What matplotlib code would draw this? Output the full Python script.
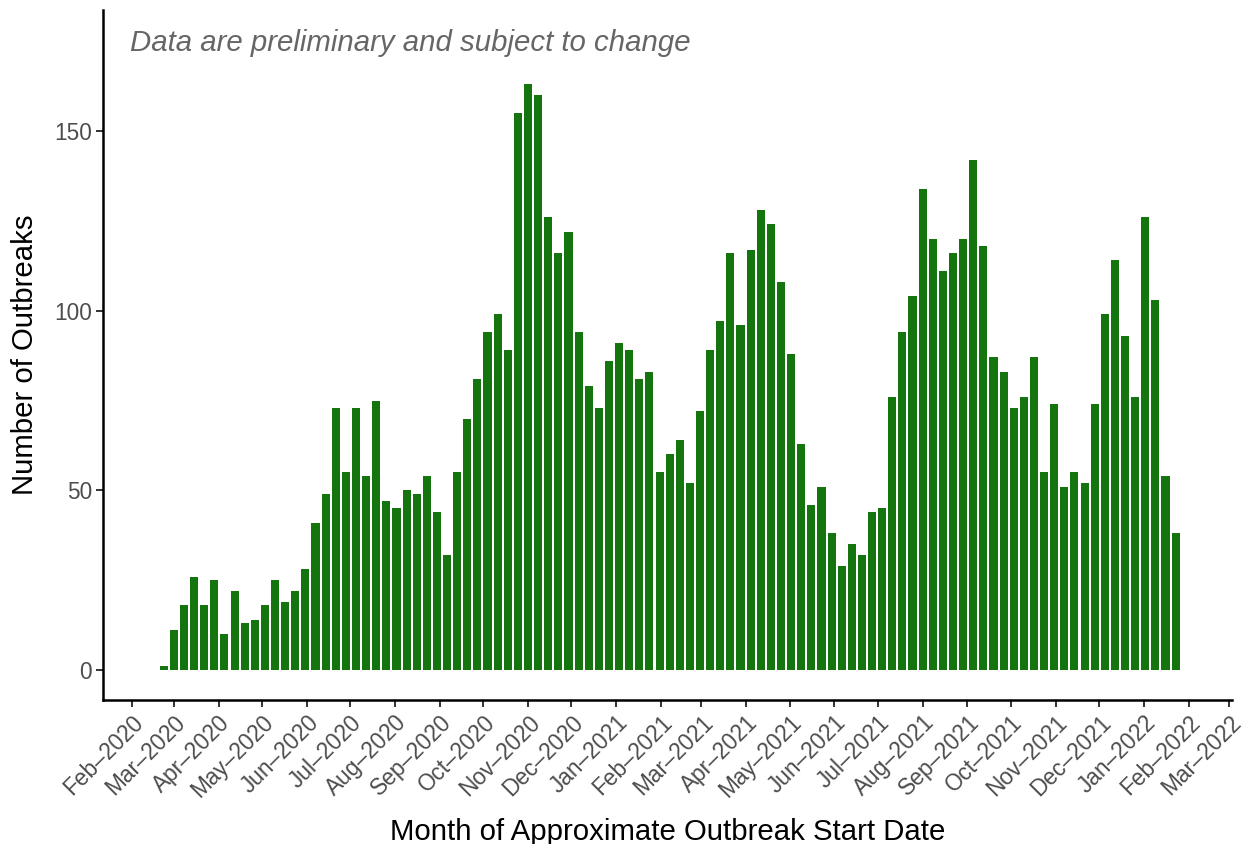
import numpy as np
import matplotlib
matplotlib.use("Agg")
import matplotlib.pyplot as plt
import datetime as dt

# ---- data ----
first_week = "2020-02-23"
outbreaks = [
    1, 11, 18, 26, 18, 25, 10, 22, 13, 14,
    18, 25, 19, 22, 28, 41, 49, 73, 55, 73,
    54, 75, 47, 45, 50, 49, 54, 44, 32, 55,
    70, 81, 94, 99, 89, 155, 163, 160, 126, 116,
    122, 94, 79, 73, 86, 91, 89, 81, 83, 55,
    60, 64, 52, 72, 89, 97, 116, 96, 117, 128,
    124, 108, 88, 63, 46, 51, 38, 29, 35, 32,
    44, 45, 76, 94, 104, 134, 120, 111, 116, 120,
    142, 118, 87, 83, 73, 76, 87, 55, 74, 51,
    55, 52, 74, 99, 114, 93, 76, 126, 103, 54,
    38,
]
tick_months = ["2020-02-01", "2020-03-01", "2020-04-01", "2020-05-01", "2020-06-01",
               "2020-07-01", "2020-08-01", "2020-09-01", "2020-10-01", "2020-11-01",
               "2020-12-01", "2021-01-01", "2021-02-01", "2021-03-01", "2021-04-01",
               "2021-05-01", "2021-06-01", "2021-07-01", "2021-08-01", "2021-09-01",
               "2021-10-01", "2021-11-01", "2021-12-01", "2022-01-01", "2022-02-01",
               "2022-03-01"]
y_ticks = [0, 50, 100, 150]
note = "Data are preliminary and subject to change"
x_title = "Month of Approximate Outbreak Start Date"
y_title = "Number of Outbreaks"

# ---- build ----
weeks = np.datetime64(first_week) + np.arange(len(outbreaks)) * np.timedelta64(7, "D")
week_dates = [dt.datetime.strptime(str(w), "%Y-%m-%d") for w in weeks]
tick_dates = [dt.datetime.strptime(t, "%Y-%m-%d") for t in tick_months]
tick_labels = [d.strftime("%b") + "\u2013" + d.strftime("%Y") for d in tick_dates]

plt.rcParams["font.family"] = ["Liberation Sans", "DejaVu Sans"]

W, H = 1244, 844
fig = plt.figure(figsize=(W / 100, H / 100), dpi=100)
L, R, T, B = 103, 1232, 10, 700
ax = fig.add_axes([L / W, 1 - B / H, (R - L) / W, (B - T) / H])

ax.bar(week_dates, outbreaks, width=5.6, color="#14750e", align="center")

ax.set_xlim(dt.datetime(2020, 1, 12), dt.datetime(2022, 3, 3))
ax.set_ylim(-8.35, 183.7)

ax.set_xticks(tick_dates)
ax.set_xticklabels(tick_labels, rotation=45, ha="right", va="top",
                   rotation_mode="anchor", color="#4d4d4d", fontsize=16.3)
ax.set_yticks(y_ticks)
ax.set_yticklabels([str(v) for v in y_ticks], color="#4d4d4d", fontsize=16.3)

for s in ["top", "right"]:
    ax.spines[s].set_visible(False)
for s in ["left", "bottom"]:
    ax.spines[s].set_linewidth(1.8)
    ax.spines[s].set_color("black")
ax.tick_params(axis="both", length=5, width=1.4, color="#333333", pad=3)

ax.set_xlabel(x_title, fontsize=21.2, color="black", labelpad=11.5)
ax.set_ylabel(y_title, fontsize=21.2, color="black", labelpad=11)

ax.text((130 - L) / (R - L), (B - 43) / (B - T), note, transform=ax.transAxes,
        ha="left", va="center", fontsize=21.2, style="italic", color="#666666")

fig.savefig("out.png", dpi=100, facecolor="white")
